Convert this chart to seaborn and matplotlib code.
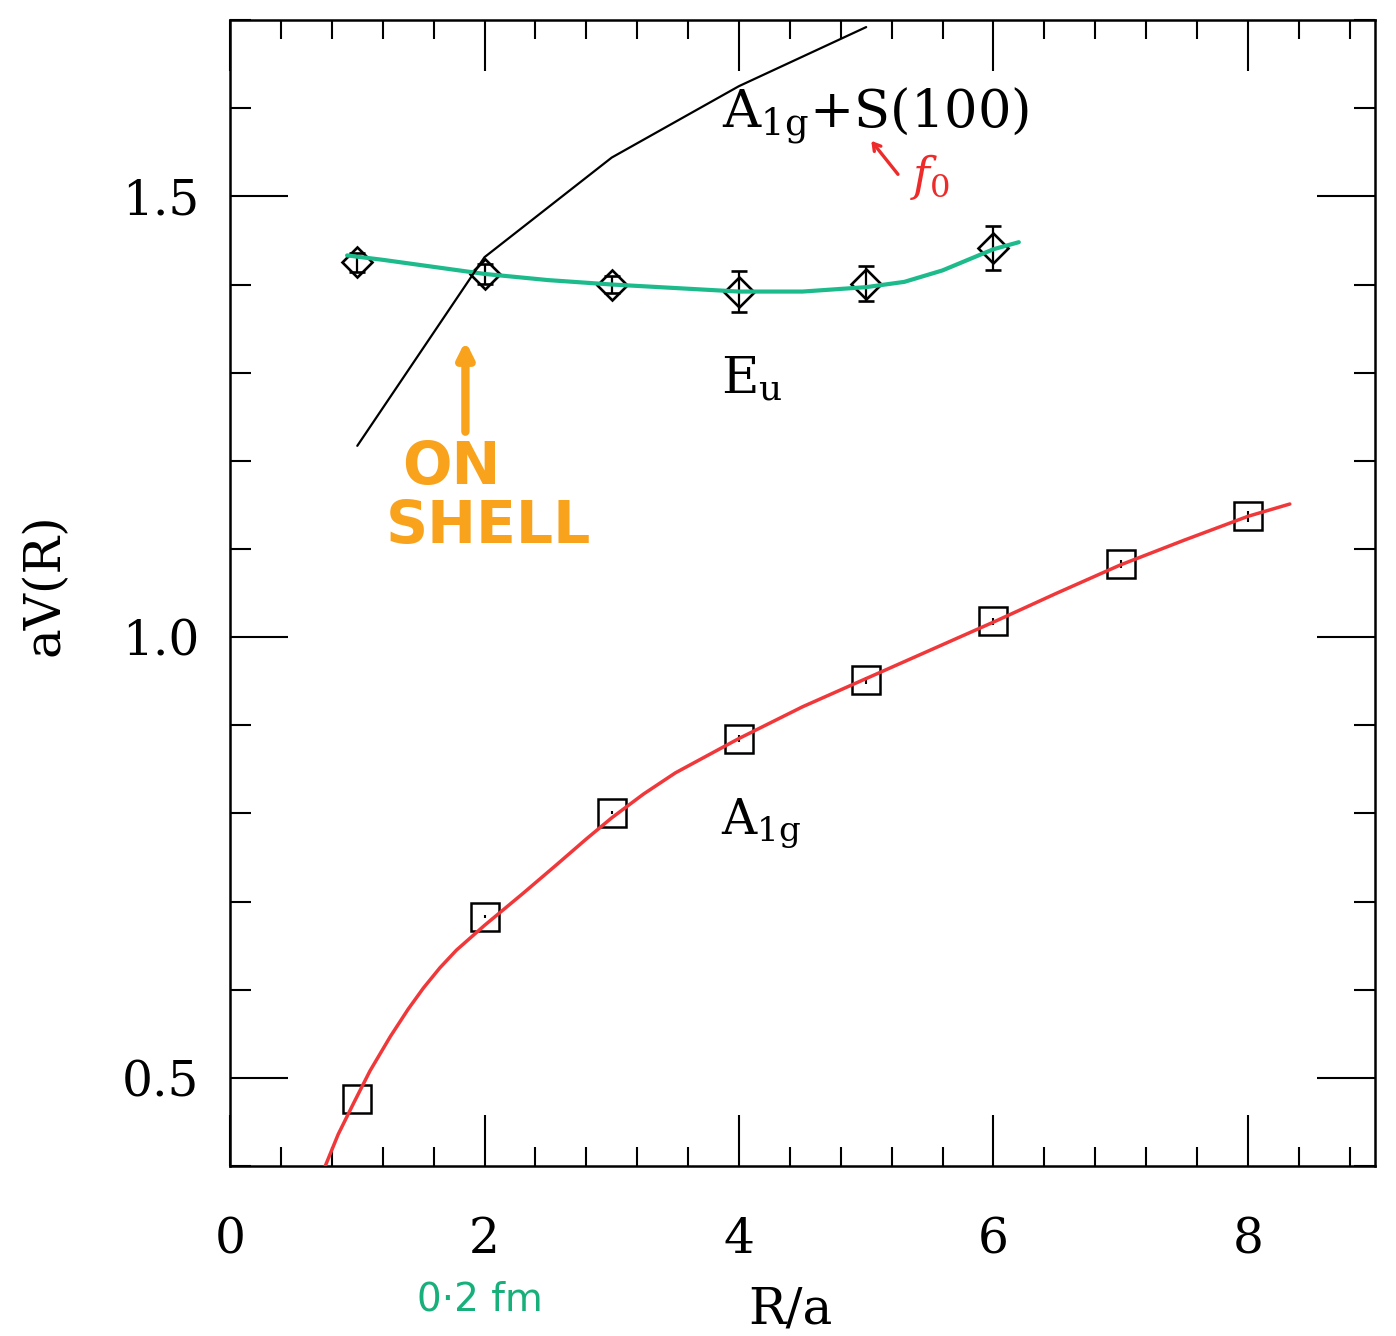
import numpy as np
import pandas as pd
import matplotlib
matplotlib.use("Agg")
import matplotlib.pyplot as plt
import seaborn as sns
from matplotlib.ticker import MultipleLocator

# ---------------- data ----------------
R_a1g = [1, 2, 3, 4, 5, 6, 7, 8]
V_a1g = [0.476, 0.683, 0.801, 0.885, 0.951, 1.018, 1.083, 1.137]
E_a1g = [0.000, 0.002, 0.002, 0.004, 0.004, 0.004, 0.005, 0.006]

R_eu = [1, 2, 3, 4, 5, 6]
V_eu = [1.425, 1.412, 1.400, 1.392, 1.401, 1.441]
E_eu = [0.011, 0.011, 0.010, 0.023, 0.020, 0.025]

# A1g + S(100) threshold line (black)
R_thr = [1, 2, 3, 4, 5]
V_thr = [1.217, 1.431, 1.544, 1.625, 1.692]

# fit curve through A1g (red)
R_fit_a1g = [0.748, 0.85, 0.97, 1.1, 1.26, 1.4, 1.52, 1.65, 1.78, 2.0, 2.3, 2.56, 2.8,
             3.0, 3.25, 3.5, 4.0, 4.5, 5.0, 5.5, 6.0, 6.5, 7.0, 7.5, 8.0, 8.33]
V_fit_a1g = [0.400, 0.436, 0.471, 0.508, 0.547, 0.578, 0.602, 0.625, 0.645, 0.673, 0.709, 0.741, 0.771,
             0.795, 0.822, 0.846, 0.885, 0.921, 0.953, 0.985, 1.017, 1.050, 1.082, 1.110, 1.137, 1.151]

# fit curve through Eu (green)
R_fit_eu = [0.92, 1.2, 1.5, 2.0, 2.5, 3.0, 3.5, 4.0, 4.5, 5.0, 5.3, 5.6, 5.8, 6.0, 6.2]
V_fit_eu = [1.433, 1.428, 1.422, 1.412, 1.405, 1.400, 1.396, 1.392, 1.392, 1.397,
            1.403, 1.416, 1.428, 1.440, 1.448]

x_ticks = [0, 2, 4, 6, 8]
y_ticks = [0.5, 1.0, 1.5]

# ---------------- style ----------------
sns.set_style("white")
plt.rcParams["font.family"] = ["DejaVu Serif"]
plt.rcParams["mathtext.fontset"] = "dejavuserif"
for k in ["text.color", "axes.labelcolor", "xtick.color", "ytick.color", "axes.edgecolor"]:
    plt.rcParams[k] = "black"

fig = plt.figure(figsize=(13.96, 13.36), dpi=100)
ax = fig.add_axes([0.1648, 0.1272, 0.8202, 0.8578])

RED = "#f0383a"
GREEN = "#1dbb8c"
ORANGE = "#f9a21c"

# curves
sns.lineplot(x=R_fit_a1g, y=V_fit_a1g, ax=ax, color=RED, lw=2.5,
             sort=False, estimator=None, zorder=4)
sns.lineplot(x=R_fit_eu, y=V_fit_eu, ax=ax, color=GREEN, lw=3.0,
             sort=False, estimator=None, zorder=4)
sns.lineplot(x=R_thr, y=V_thr, ax=ax, color="black", lw=1.6,
             sort=False, estimator=None, zorder=4)

# data points with error bars
ax.errorbar(R_a1g, V_a1g, yerr=E_a1g, fmt="s", ms=20, mfc="none", mec="black",
            mew=1.8, ecolor="black", elinewidth=1.5, capsize=0, zorder=3)
ax.errorbar(R_eu, V_eu, yerr=E_eu, fmt="D", ms=15.5, mfc="none", mec="black",
            mew=1.9, ecolor="black", elinewidth=1.6, capsize=6, capthick=2.2, zorder=3)

# axes
ax.set_xlim(0, 9)
ax.set_ylim(0.4, 1.7)
ax.set_xticks(x_ticks)
ax.set_yticks(y_ticks)
ax.set_xticklabels([str(t) for t in x_ticks])
ax.set_yticklabels([f"{t:.1f}" for t in y_ticks])
ax.xaxis.set_minor_locator(MultipleLocator(0.4))
ax.yaxis.set_minor_locator(MultipleLocator(0.1))
for s in ax.spines.values():
    s.set_linewidth(1.8)
    s.set_color("black")
ax.tick_params(axis="x", which="major", direction="in", length=37, width=1.5,
               top=True, bottom=True, labelsize=35, pad=36)
ax.tick_params(axis="x", which="minor", direction="in", length=14, width=1.5,
               top=True, bottom=True)
ax.tick_params(axis="y", which="major", direction="in", length=42, width=1.5,
               left=True, right=True, labelsize=35, pad=22)
ax.tick_params(axis="y", which="minor", direction="in", length=15, width=1.5,
               left=True, right=True)

ax.set_xlabel("R/a", fontsize=36)
ax.set_ylabel("aV(R)", fontsize=36)
ax.xaxis.set_label_coords(0.489, -0.104)
ax.yaxis.set_label_coords(-0.14, 0.507)

# curve labels
ax.text(3.87, 1.578, r"A$_{\mathrm{1g}}$+S(100)", fontsize=38, ha="left", va="baseline")
ax.text(3.86, 1.276, r"E$_{\mathrm{u}}$", fontsize=37, ha="left", va="baseline")
ax.text(3.86, 0.777, r"A$_{\mathrm{1g}}$", fontsize=35, ha="left", va="baseline")

# handwritten annotations
ax.annotate("", xy=(1.85, 1.336), xytext=(1.85, 1.233),
            arrowprops=dict(arrowstyle="-|>,head_length=0.9,head_width=0.45",
                            color=ORANGE, lw=6, shrinkA=0, shrinkB=0))
ax.text(1.74, 1.192, "ON", color=ORANGE, fontsize=42, fontweight="bold",
        family="DejaVu Sans", ha="center", va="center")
ax.text(2.03, 1.126, "SHELL", color=ORANGE, fontsize=42, fontweight="bold",
        family="DejaVu Sans", ha="center", va="center")

ax.annotate("", xy=(5.04, 1.563), xytext=(5.25, 1.525),
            arrowprops=dict(arrowstyle="->,head_length=0.5,head_width=0.3",
                            color="#ee2b2b", lw=2.4, shrinkA=0, shrinkB=0))
ax.text(5.50, 1.522, r"$f_0$", color="#ee2b2b", fontsize=33, ha="center", va="center")

fig.text(0.344, 0.027, "0·2 fm", color="#17b07a", fontsize=28,
         family="DejaVu Sans", ha="center", va="center")

fig.savefig("out.png", dpi=100, facecolor="white")
